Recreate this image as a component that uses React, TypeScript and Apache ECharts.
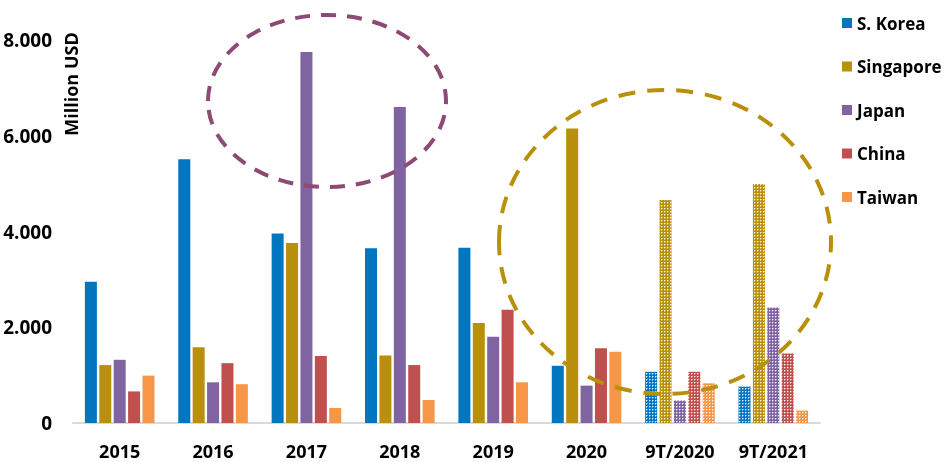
import { useEffect, useRef } from 'react';
import * as echarts from 'echarts';

const categories = ['2015', '2016', '2017', '2018', '2019', '2020', '9T/2020', '9T/2021'];
const seriesNames = ['S. Korea', 'Singapore', 'Japan', 'China', 'Taiwan'];
const sKorea = [2950, 5510, 3960, 3650, 3660, 1195, 1070, 760];
const singapore = [1210, 1580, 3760, 1410, 2090, 6150, 4660, 4990];
const japan = [1320, 850, 7750, 6600, 1800, 780, 470, 2410];
const china = [660, 1250, 1400, 1210, 2365, 1560, 1070, 1450];
const taiwan = [990, 810, 315, 480, 850, 1490, 830, 260];
const patternedCategories = ['9T/2020', '9T/2021'];
const yTicks = [0, 2000, 4000, 6000, 8000];

const colors = ['#0075C0', '#B8900B', '#8064A2', '#C0504D', '#F79646'];
const FONT = '"Open Sans", "Noto Sans", sans-serif';

function makePattern(color: string) {
  const c = document.createElement('canvas');
  c.width = 3;
  c.height = 3;
  const ctx = c.getContext('2d')!;
  ctx.fillStyle = color;
  ctx.fillRect(0, 0, 3, 3);
  ctx.fillStyle = 'rgba(255,255,255,0.9)';
  ctx.fillRect(1, 1, 1, 1);
  ctx.fillStyle = 'rgba(255,255,255,0.4)';
  ctx.fillRect(2, 1, 1, 1);
  ctx.fillRect(1, 2, 1, 1);
  return { image: c, repeat: 'repeat' };
}

export default function App() {
  const ref = useRef<HTMLDivElement>(null);
  useEffect(() => {
    if (!ref.current) return;
    const chart = echarts.init(ref.current, null, { renderer: 'svg' });
    const allData = [sKorea, singapore, japan, china, taiwan];
    const series = allData.map((vals, si) => ({
      name: seriesNames[si],
      type: 'bar',
      barWidth: 12,
      barGap: '20%',
      itemStyle: { color: colors[si] },
      data: vals.map((v, i) =>
        patternedCategories.includes(categories[i])
          ? { value: v, itemStyle: { color: makePattern(colors[si]) } }
          : v
      ),
    }));
    chart.setOption({
      animation: false,
      color: colors,
      grid: { left: 73, right: 127, top: 40, bottom: 39 },
      legend: {
        orient: 'vertical',
        left: 837,
        top: 8,
        icon: 'rect',
        itemWidth: 10,
        itemHeight: 10,
        itemGap: 23.5,
        data: seriesNames,
        textStyle: { fontFamily: FONT, fontWeight: 'bold', fontSize: 17, color: '#000', lineHeight: 20 },
      },
      xAxis: {
        type: 'category',
        data: categories,
        axisTick: { show: false },
        axisLine: { lineStyle: { color: '#D9D9D9', width: 2 } },
        axisLabel: { fontFamily: FONT, fontWeight: 'bold', fontSize: 18, color: '#000', margin: 19 },
      },
      yAxis: {
        type: 'value',
        min: yTicks[0],
        max: yTicks[yTicks.length - 1],
        interval: 2000,
        splitLine: { show: false },
        axisLine: { show: false },
        axisTick: { show: false },
        axisLabel: {
          fontFamily: FONT,
          fontWeight: 'bold',
          fontSize: 19,
          color: '#000',
          margin: 21,
          formatter: (v: number) => (v === 0 ? '0' : (v / 1000).toFixed(3)),
        },
      },
      graphic: [
        {
          type: 'text',
          x: 71,
          y: 84,
          rotation: Math.PI / 2,
          style: {
            text: 'Million USD',
            fontFamily: FONT,
            fontWeight: 'bold',
            fontSize: 18,
            fill: '#000',
            align: 'center',
            verticalAlign: 'middle',
          },
        },
        {
          type: 'ellipse',
          z: 100,
          shape: { cx: 327, cy: 101, rx: 119, ry: 86 },
          style: { fill: 'none', stroke: '#8C4A74', lineWidth: 4, lineDash: [15, 11] },
        },
        {
          type: 'ellipse',
          z: 100,
          shape: { cx: 665, cy: 242, rx: 166, ry: 152 },
          style: { fill: 'none', stroke: '#B8900B', lineWidth: 4, lineDash: [17, 12] },
        },
      ],
      series,
    });
    return () => chart.dispose();
  }, []);
  return <div ref={ref} style={{ position: 'fixed', left: 0, top: 0, width: 947, height: 462 }} />;
}
